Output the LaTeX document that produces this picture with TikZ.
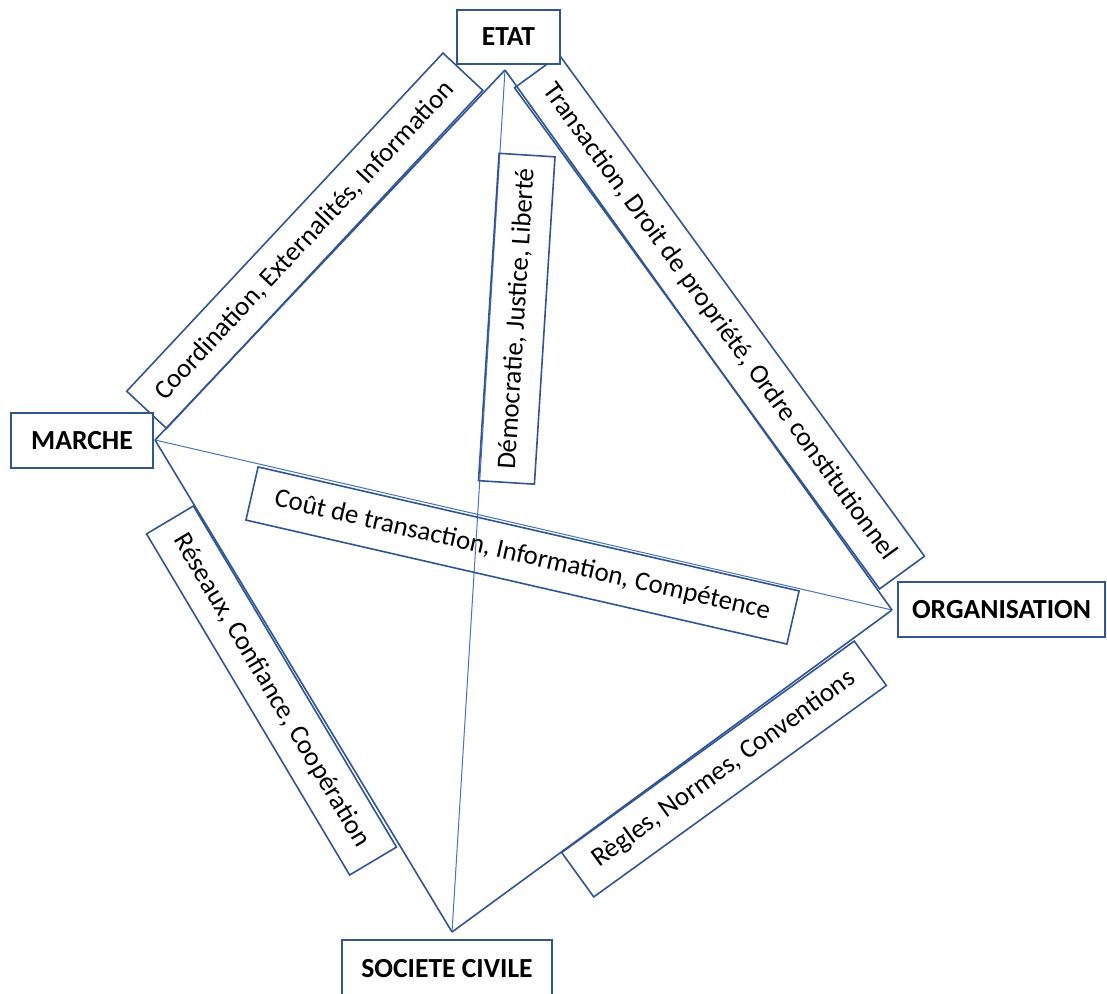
\documentclass[tikz,border=0pt]{standalone}
\usepackage{fontspec}
\setmainfont{Carlito}
\definecolor{boxblue}{HTML}{2F5597}
\definecolor{lineblue}{HTML}{4472C4}
\begin{document}
\begin{tikzpicture}[x=1pt,y=-1pt,
  every node/.style={font=\fontsize{26.9}{32}\selectfont},
  mainbox/.style={draw=boxblue, line width=2pt, fill=white, inner sep=0pt, font=\fontsize{27.6}{32}\selectfont\bfseries},
  labelbox/.style={draw=boxblue, line width=1.6pt, inner sep=0pt, minimum height=54.5pt},
  outerline/.style={draw=boxblue, line width=1.6pt},
  innerline/.style={draw=lineblue, line width=1pt}]
\useasboundingbox (0,0) rectangle (1107,993);
% vertices
\coordinate (vE) at (505,70);
\coordinate (vM) at (155,440);
\coordinate (vO) at (892,610);
\coordinate (vS) at (452,932);
% connectors
\draw[innerline] (vE) -- (vS);
\draw[innerline] (vM) -- (vO);
\draw[outerline] (vE) -- (vM);
\draw[outerline] (vE) -- (vO);
\draw[outerline] (vM) -- (vS);
\draw[outerline] (vO) -- (vS);
% label boxes
\node[labelbox, rotate=46.92, minimum width=463pt] (lA) at (304.75,240.75) {Coordination, Externalités, Information};
\node[labelbox, rotate=-53.93, minimum width=620pt, minimum height=55.5pt] (lB) at (719.5,322) {Transaction, Droit de propriété, Ordre constitutionnel};
\node[labelbox, rotate=86.4, minimum width=328pt, minimum height=56pt] (lC) at (516.75,318.75) {Démocratie, Justice, Liberté};
\node[labelbox, rotate=-12.91, minimum width=555pt] (lD) at (522.5,555.5) {Coût de transaction, Information, Compétence};
\node[labelbox, rotate=-59.23, minimum width=397pt] (lE) at (271.5,690.5) {Réseaux, Confiance, Coopération};
\node[labelbox, rotate=35.85, minimum width=361pt, minimum height=54.8pt] (lF) at (724,769) {Règles, Normes, Conventions};
% main boxes
\node[mainbox, minimum width=103pt, minimum height=54pt] (etat) at (508.5,37) {ETAT};
\node[mainbox, minimum width=142pt, minimum height=55pt] (marche) at (82,440.5) {MARCHE};
\node[mainbox, minimum width=207pt, minimum height=55pt] (org) at (1001.5,609.5) {ORGANISATION};
\node[mainbox, minimum width=210pt, minimum height=58pt] (soc) at (447,969) {SOCIETE CIVILE};
\end{tikzpicture}
\end{document}
